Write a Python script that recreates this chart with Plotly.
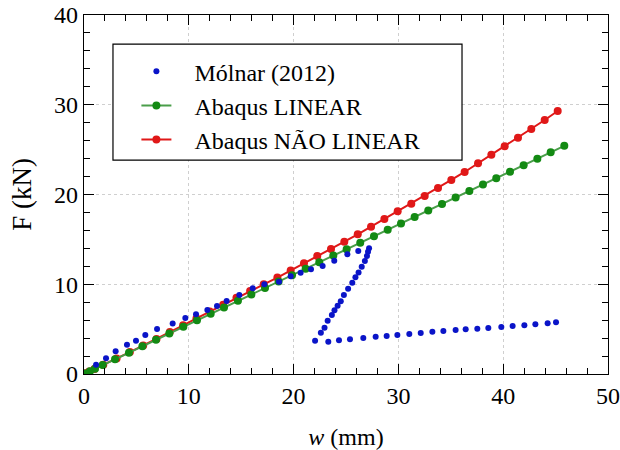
import plotly.graph_objects as go

# Mólnar (2012) experimental data
molnar_w = [1.15, 2.10, 3.02, 4.10, 4.96, 5.85, 6.97, 8.46, 9.67, 10.69, 11.77, 12.69, 13.61,
            14.82, 16.10, 17.21, 18.61, 19.72, 20.67, 21.66, 22.77, 23.88, 25.13, 26.17,
            27.20, 27.10, 27.00, 26.80, 26.50, 26.20, 25.90, 25.60, 25.20, 24.80, 24.50,
            24.20, 23.90, 23.65, 23.25, 22.95, 22.60, 22.05,
            23.31, 24.33, 25.38, 26.65, 27.83, 28.88, 29.90, 31.04, 32.13, 33.24, 34.29,
            35.46, 36.42, 37.53, 38.58, 39.82, 40.90, 42.02, 43.07, 44.24, 45.04]
molnar_f = [1.04, 1.75, 2.53, 3.27, 3.71, 4.35, 5.01, 5.64, 6.24, 6.65, 7.13, 7.58, 8.13,
            8.80, 9.55, 9.99, 10.29, 10.88, 11.29, 11.66, 12.03, 12.63, 13.34, 13.70,
            14.00, 13.63, 13.15, 12.60, 11.96, 11.30, 10.77, 10.18, 9.50, 8.80, 8.10,
            7.60, 7.10, 6.57, 5.92, 5.15, 4.60, 3.70,
            3.60, 3.75, 3.86, 4.01, 4.16, 4.23, 4.35, 4.46, 4.57, 4.72, 4.79,
            4.90, 4.98, 5.05, 5.13, 5.24, 5.35, 5.42, 5.53, 5.65, 5.76]

# Abaqus LINEAR
lin_w = [0, 0.10, 0.57, 1.05, 1.78, 2.96, 4.29, 5.57, 6.87, 8.14, 9.48, 10.78, 12.09, 13.36,
         14.69, 15.97, 17.27, 18.57, 19.85, 21.15, 22.45, 23.79, 25.06, 26.36, 27.67, 28.98,
         30.25, 31.55, 32.85, 34.16, 35.46, 36.77, 38.07, 39.34, 40.65, 41.95, 43.26, 44.53, 45.83]
lin_f = [0, 0.06, 0.32, 0.58, 0.99, 1.64, 2.38, 3.09, 3.81, 4.51, 5.26, 5.98, 6.71, 7.41,
         8.15, 8.86, 9.58, 10.30, 11.01, 11.73, 12.45, 13.19, 13.90, 14.62, 15.35, 16.07,
         16.78, 17.50, 18.22, 18.95, 19.67, 20.39, 21.11, 21.82, 22.54, 23.27, 23.99, 24.70, 25.42]

# Abaqus NÃO LINEAR
nl_w = [0, 0.15, 0.50, 1.00, 1.84, 3.11, 4.38, 5.65, 6.92, 8.19, 9.46, 10.73, 12.00, 13.28,
        14.55, 15.85, 17.15, 18.45, 19.72, 20.99, 22.26, 23.57, 24.84, 26.12, 27.39, 28.66,
        29.93, 31.23, 32.51, 33.78, 35.05, 36.32, 37.60, 38.87, 40.14, 41.41, 42.68, 43.96, 45.20]
nl_f = [0, 0.08, 0.28, 0.56, 1.02, 1.73, 2.44, 3.17, 3.91, 4.67, 5.43, 6.19, 6.96, 7.72,
        8.50, 9.24, 9.99, 10.75, 11.53, 12.33, 13.15, 13.93, 14.74, 15.56, 16.41, 17.27,
        18.13, 18.98, 19.83, 20.72, 21.62, 22.51, 23.48, 24.44, 25.37, 26.33, 27.30, 28.30, 29.30]

FONT = "Liberation Serif, Times New Roman, serif"
PAD = "\u00a0\u00a0\u00a0"

fig = go.Figure()
fig.add_trace(go.Scatter(x=nl_w, y=nl_f, mode="lines+markers", name=PAD + "Abaqus NÃO LINEAR",
                         line=dict(color="#e01818", width=2),
                         marker=dict(color="#e01818", size=8), legendrank=3))
fig.add_trace(go.Scatter(x=lin_w, y=lin_f, mode="lines+markers", name=PAD + "Abaqus LINEAR",
                         line=dict(color="#4a9e4a", width=2),
                         marker=dict(color="#138a13", size=8), legendrank=2))
fig.add_trace(go.Scatter(x=molnar_w, y=molnar_f, mode="markers", name=PAD + "Mólnar (2012)",
                         marker=dict(color="#0a14c8", size=6), legendrank=1))

axis_common = dict(
    showline=True, linecolor="black", linewidth=1.2, mirror="ticks",
    ticks="inside", ticklen=10, tickwidth=1.2, tickcolor="black",
    showgrid=True, gridcolor="#cfcfcf", griddash="dot", gridwidth=1,
    zeroline=False, automargin=False, ticklabeloverflow="allow",
    tickfont=dict(family=FONT, size=24, color="black"),
    minor=dict(ticks="inside", ticklen=6, tickwidth=1.2, tickcolor="black", showgrid=False),
)

fig.update_layout(
    width=620, height=450,
    margin=dict(l=84, r=12, t=15, b=76, autoexpand=False),
    paper_bgcolor="white", plot_bgcolor="white",
    font=dict(family=FONT, size=24, color="black"),
    xaxis=dict(range=[0, 50], dtick=10, tick0=0, **axis_common,
               title=dict(text="<i>w</i> (mm)", font=dict(family=FONT, size=24), standoff=25)),
    yaxis=dict(range=[0, 40], dtick=10, tick0=0, **axis_common,
               title=dict(text="F (kN)", font=dict(family=FONT, size=27), standoff=14)),
    showlegend=True,
    legend=dict(x=0.1, y=0.905, xanchor="left", yanchor="top",
                bgcolor="rgba(0,0,0,0)", borderwidth=0, itemwidth=30,
                font=dict(family=FONT, size=24, color="black")),
    shapes=[dict(type="rect", xref="paper", yref="paper",
                 x0=0.0553, x1=0.7214, y0=0.596, y1=0.919,
                 line=dict(color="black", width=1.2), fillcolor="white", layer="above")],
)
fig.update_xaxes(minor=dict(dtick=2))
fig.update_yaxes(minor=dict(dtick=2))

# remove the default 8px page margin so the 620x450 figure fills the window exactly
fig.write_html("out.html", config={"displayModeBar": False},
               post_script="document.body.style.margin='0';document.body.style.overflow='hidden';")
